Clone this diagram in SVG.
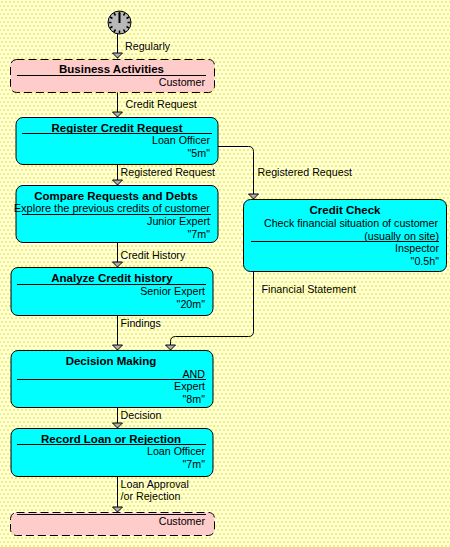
<svg xmlns="http://www.w3.org/2000/svg" width="450" height="547" viewBox="0 0 450 547">
<defs>
<pattern id="bg" width="4" height="8" patternUnits="userSpaceOnUse">
<rect width="4" height="8" fill="#fff"/>
<rect x="1" y="1" width="2" height="2" fill="#ff0"/>
<rect x="3" y="5" width="1" height="2" fill="#ff0"/><rect x="0" y="5" width="1" height="2" fill="#ff0"/>
</pattern>
<marker id="arr" markerUnits="userSpaceOnUse" markerWidth="12" markerHeight="7" refX="5.5" refY="6" orient="0" viewBox="0 0 12 7" overflow="visible"><path d="M0.5 0.5H10.500L5.500 5.500Z" fill="#b0b0b0" stroke="#000" stroke-width="1"/></marker>
</defs>
<style>
text{font-family:"Liberation Sans",Arial,sans-serif;font-size:10.700px;fill:#000}
.t{font-weight:bold;text-anchor:middle;font-size:11.500px}
.r{text-anchor:end}
.act{fill:#0ff;stroke:#000;stroke-width:1}
.ext{fill:#fcc;stroke:#000;stroke-width:1;stroke-dasharray:8 4}
.sep{stroke:#000;stroke-width:1;fill:none}
.c{stroke:#000;stroke-width:1;fill:none;marker-end:url(#arr)}
</style>
<rect width="450" height="547" fill="url(#bg)"/>
<g id="connectors">
<path class="c" d="M117.500 34V58.500"/>
<path class="c" d="M117.500 92V117.500"/>
<path class="c" d="M117.500 164V185.500"/>
<path class="c" d="M117.500 242V267.500"/>
<path class="c" d="M117.500 315V350.500"/>
<path class="c" d="M117.500 407V428.500"/>
<path class="c" d="M117.500 476V512.500"/>
<path class="c" d="M218 146.500H248.500Q253.500 146.500 253.500 151.500V199.500"/>
<path class="c" d="M253.500 272V331.500Q253.500 336.500 248.500 336.500H175.500Q170.500 336.500 170.500 341.500V350.500"/>
<text x="125" y="50">Regularly</text>
<text x="125.500" y="108">Credit Request</text>
<text x="120.500" y="176">Registered Request</text>
<text x="120.500" y="259">Credit History</text>
<text x="120.500" y="327">Findings</text>
<text x="120.500" y="419">Decision</text>
<text x="120.500" y="488">Loan Approval</text>
<text x="120.500" y="500">/or Rejection</text>
<text x="257.500" y="176">Registered Request</text>
<text x="261.500" y="293">Financial Statement</text>
</g>
<g id="start">
<circle cx="119.500" cy="22.500" r="11.500" fill="#b8b8b8" stroke="#000"/>
<path d="M119.500 13V23" stroke="#000" stroke-width="2" fill="none"/>
<path d="M119.500 11.500v3M119.500 30.500v3M108.500 22.500h3M127.500 22.500h3M114 13l1.500 2.500M125 13l-1.500 2.500M114 32l1.500-2.500M125 32l-1.500-2.500M110 17l2.500 1.500M129 17l-2.500 1.500M110 28l2.500-1.500M129 28l-2.500-1.500" stroke="#000" stroke-width="1.500" fill="none"/>
</g>
<g id="business-activities">
<rect class="ext" x="10.500" y="59.500" width="204" height="33" rx="6"/>
<path class="sep" d="M17 75.500H206"/>
<text class="t" x="111.500" y="73">Business Activities</text>
<text class="r" x="205" y="86">Customer</text>
</g>
<g id="register-credit-request">
<rect class="act" x="16" y="117.500" width="202" height="47" rx="7"/>
<path class="sep" d="M22 133.500H212"/>
<text class="t" x="117" y="132">Register Credit Request</text>
<text class="r" x="210" y="144">Loan Officer</text>
<text class="r" x="210" y="157">"5m"</text>
</g>
<g id="compare-requests">
<rect class="act" x="16" y="185.500" width="202" height="57" rx="7"/>
<path class="sep" d="M22 214.500H211"/>
<text class="t" x="116" y="200">Compare Requests and Debts</text>
<text class="r" x="210" y="212" style="font-size:11px">Explore the previous credits of customer</text>
<text class="r" x="210" y="225">Junior Expert</text>
<text class="r" x="210" y="238">"7m"</text>
</g>
<g id="analyze-credit-history">
<rect class="act" x="11" y="267.500" width="202" height="48" rx="7"/>
<path class="sep" d="M17 284.500H206"/>
<text class="t" x="112" y="282">Analyze Credit history</text>
<text class="r" x="205" y="295">Senior Expert</text>
<text class="r" x="205" y="308">"20m"</text>
</g>
<g id="decision-making">
<rect class="act" x="11" y="350.500" width="202" height="57" rx="7"/>
<path class="sep" d="M17 379.500H206"/>
<text class="t" x="111" y="365">Decision Making</text>
<text class="r" x="205" y="378">AND</text>
<text class="r" x="205" y="390">Expert</text>
<text class="r" x="205" y="403">"8m"</text>
</g>
<g id="record-loan">
<rect class="act" x="11" y="428.500" width="202" height="48" rx="7"/>
<path class="sep" d="M17 444.500H206"/>
<text class="t" x="111" y="443">Record Loan or Rejection</text>
<text class="r" x="205" y="455">Loan Officer</text>
<text class="r" x="205" y="468">"7m"</text>
</g>
<g id="customer">
<rect class="ext" x="10.500" y="512.500" width="204" height="23" rx="6"/>
<path class="sep" d="M17 514.500H206"/>
<text class="r" x="205" y="525">Customer</text>
</g>
<g id="credit-check">
<rect class="act" x="243.500" y="199.500" width="203" height="72" rx="7"/>
<path class="sep" d="M251 241.500H439"/>
<text class="t" x="345" y="214">Credit Check</text>
<text class="r" x="438" y="227">Check financial situation of customer</text>
<text class="r" x="439" y="240">(usually on site)</text>
<text class="r" x="439" y="252">Inspector</text>
<text class="r" x="439" y="265">"0.5h"</text>
</g>
</svg>
